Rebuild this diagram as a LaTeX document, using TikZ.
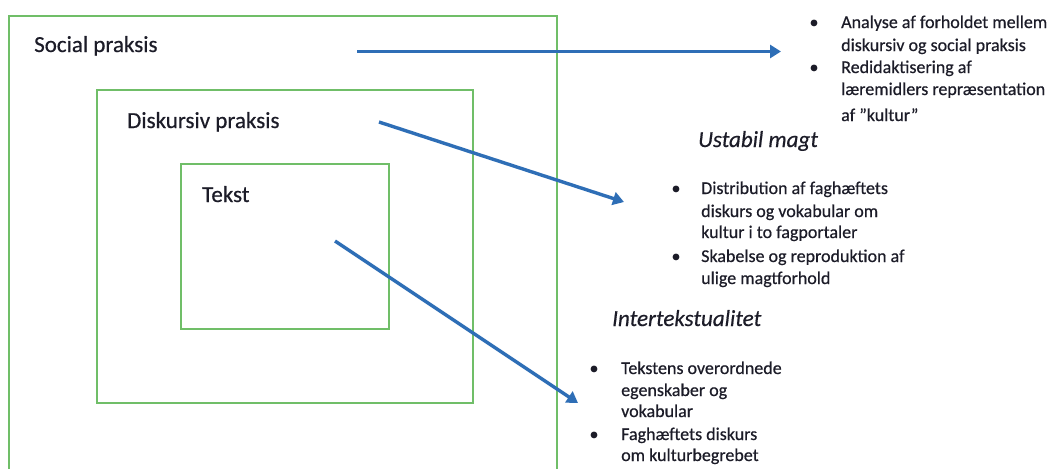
\documentclass[tikz,border=0pt]{standalone}
\usepackage{fontspec}
\setmainfont{Carlito}[FakeBold=0.5]
\usetikzlibrary{arrows.meta}
\definecolor{boxgreen}{RGB}{112,190,104}
\definecolor{arrowblue}{RGB}{46,110,182}
\definecolor{txt}{RGB}{28,28,40}
\tikzset{
  frame/.style={draw=boxgreen, line width=1.6pt},
  conn/.style={draw=arrowblue, line width=3.4pt, -{Triangle[length=11pt,width=13pt]}},
  lbl/.style={anchor=base west, inner sep=0pt, text=txt, font=\fontsize{23}{28}\selectfont},
  head/.style={anchor=base west, inner sep=0pt, text=txt, font=\fontsize{23}{28}\selectfont\itshape},
  item/.style={anchor=base west, inner sep=0pt, text=txt, font=\fontsize{18}{22}\selectfont},
  bul/.style={anchor=base, inner sep=0pt, text=txt, font=\fontsize{18}{22}\selectfont},
}
\begin{document}
\begin{tikzpicture}[x=1pt,y=-1pt]
\useasboundingbox[fill=white] (0,0) rectangle (1051,469);
% nested frames
\draw[frame] (9,469) -- (9,16) -- (557,16) -- (557,469);
\draw[frame] (97,90) rectangle (473,403);
\draw[frame] (181,164) rectangle (389,329);
% labels
\node[lbl] (social) at (34,52) {Social praksis};
\node[lbl] (disk) at (127,128) {Diskursiv praksis};
\node[lbl] (tekst) at (202,202) {Tekst};
% arrow coordinates
\coordinate (a1s) at (357,51.5);
\coordinate (a1e) at (781,51.5);
\coordinate (a2s) at (379,122);
\coordinate (a2e) at (624,202);
\coordinate (a3s) at (335,241);
\coordinate (a3e) at (578,403);
\draw[conn] (a1s) -- (a1e);
\draw[conn] (a2s) -- (a2e);
\draw[conn] (a3s) -- (a3e);
% list 1
\node[bul] (b1a) at (814,28) {\textbullet};
\node[item] (t1a) at (841,28) {Analyse af forholdet mellem};
\node[item] (t1b) at (841,51) {diskursiv og social praksis};
\node[bul] (b1b) at (814,73) {\textbullet};
\node[item] (t1c) at (841,73) {Redidaktisering af};
\node[item] (t1d) at (841,95) {læremidlers repræsentation};
\node[item] (t1e) at (841,121) {af ”kultur”};
% heading 2 + list 2
\node[head] (h2) at (698,147) {Ustabil magt};
\node[bul] (b2a) at (676,194) {\textbullet};
\node[item] (t2a) at (701,194) {Distribution af faghæftets};
\node[item] (t2b) at (701,217) {diskurs og vokabular om};
\node[item] (t2c) at (701,238) {kultur i to fagportaler};
\node[bul] (b2b) at (676,262) {\textbullet};
\node[item] (t2d) at (701,262) {Skabelse og reproduktion af};
\node[item] (t2e) at (701,284) {ulige magtforhold};
% heading 3 + list 3
\node[head] (h3) at (612,326) {Intertekstualitet};
\node[bul] (b3a) at (594,374) {\textbullet};
\node[item] (t3a) at (621,374) {Tekstens overordnede};
\node[item] (t3b) at (621,396) {egenskaber og};
\node[item] (t3c) at (621,417) {vokabular};
\node[bul] (b3b) at (594,440) {\textbullet};
\node[item] (t3d) at (621,440) {Faghæftets diskurs};
\node[item] (t3e) at (621,461) {om kulturbegrebet};
\end{tikzpicture}
\end{document}
